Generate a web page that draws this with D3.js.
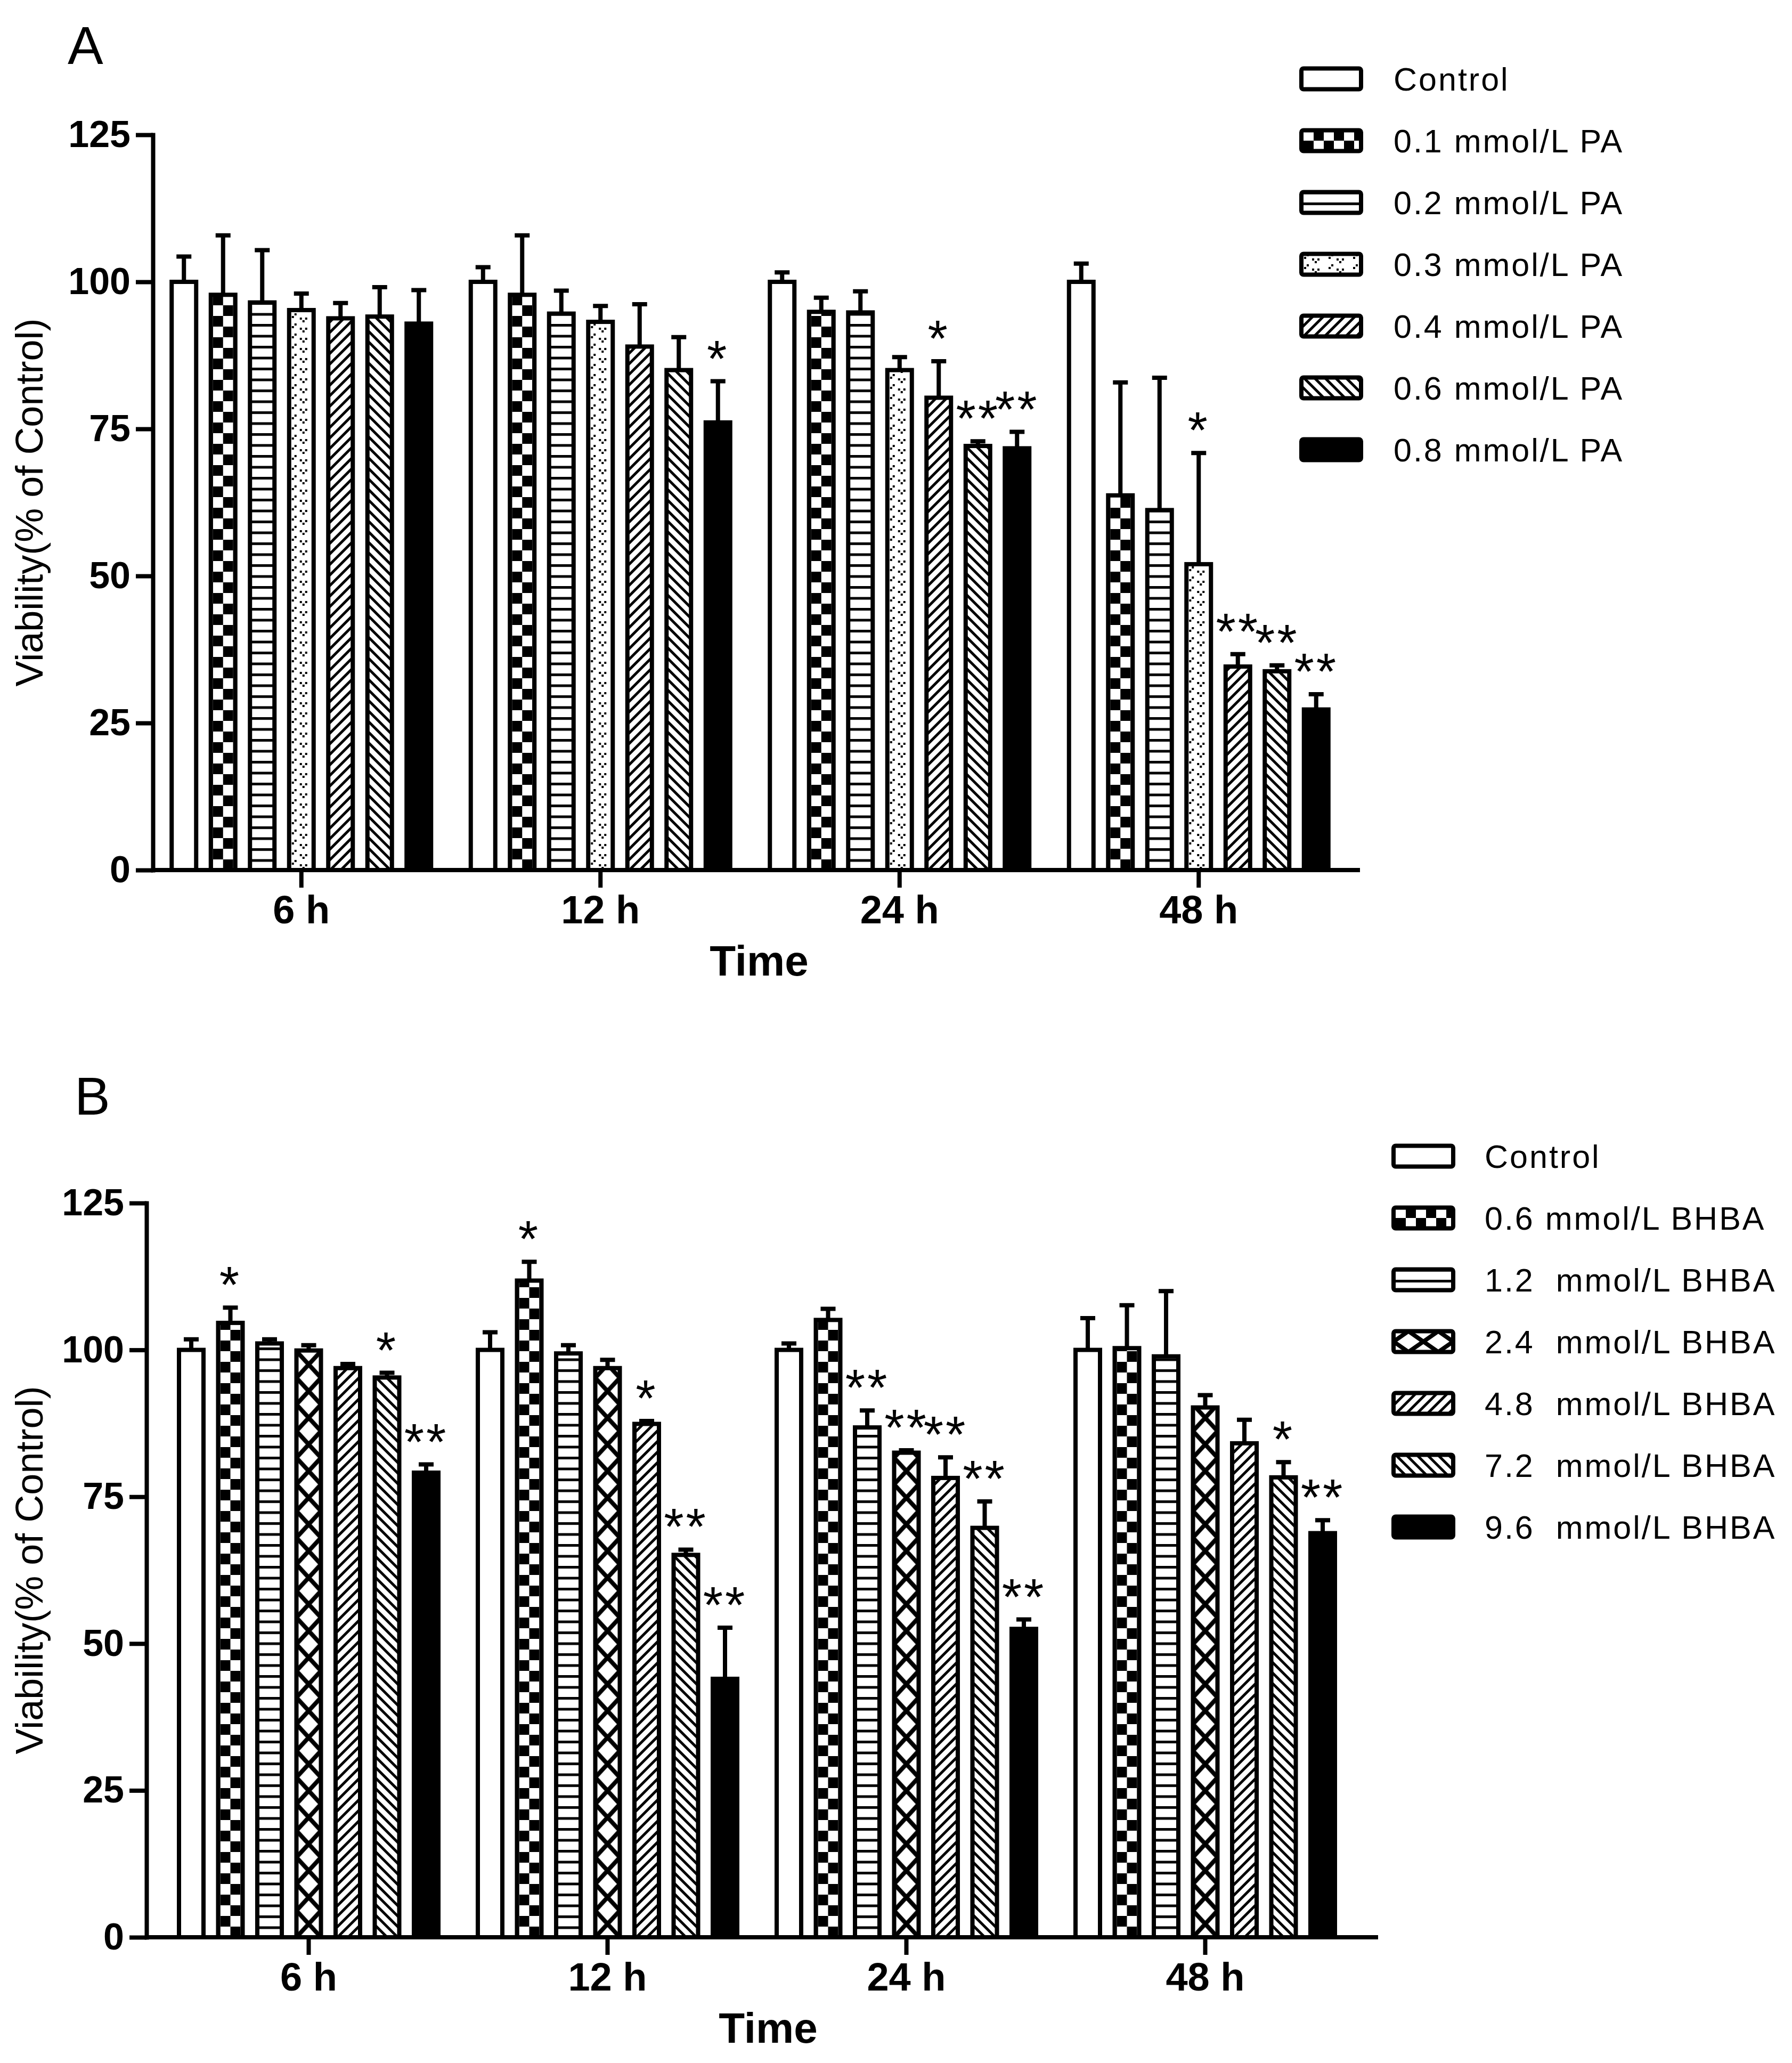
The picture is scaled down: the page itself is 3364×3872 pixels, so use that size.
<!DOCTYPE html>
<html>
<head>
<meta charset="utf-8">
<script src="https://cdn.jsdelivr.net/npm/d3@7"></script>
<style>
  body { margin: 0; background: #fff; }
  svg text { font-family: "Liberation Sans", Arial, sans-serif; fill: #000; }
</style>
</head>
<body>
<svg id="chart"></svg>
<script>
// ---- data ----
const times = ["6 h", "12 h", "24 h", "48 h"];
const yTicks = [0, 25, 50, 75, 100, 125];

const paGroups = ["Control", "0.1 mmol/L PA", "0.2 mmol/L PA", "0.3 mmol/L PA",
                  "0.4 mmol/L PA", "0.6 mmol/L PA", "0.8 mmol/L PA"];
// rows = groups, columns = times
const paMeans = [
  [100, 100, 100, 100],
  [97.8, 97.8, 94.9, 63.7],
  [96.5, 94.6, 94.8, 61.2],
  [95.2, 93.2, 85.0, 52.0],
  [93.8, 89.0, 80.3, 34.6],
  [94.1, 85.0, 72.1, 33.8],
  [92.9, 76.1, 71.7, 27.3]
];
const paErrors = [
  [4.3, 2.5, 1.6, 3.1],
  [10.1, 10.1, 2.4, 19.2],
  [8.9, 3.9, 3.6, 22.5],
  [2.8, 2.7, 2.2, 18.9],
  [2.6, 7.2, 6.2, 2.1],
  [5.0, 5.6, 0.8, 1.0],
  [5.7, 7.0, 2.8, 2.6]
];
const paStars = [
  ["", "", "", ""],
  ["", "", "", ""],
  ["", "", "", ""],
  ["", "", "", "*"],
  ["", "", "*", "**"],
  ["", "", "**", "**"],
  ["", "*", "**", "**"]
];

const bhbaGroups = ["Control", "0.6 mmol/L BHBA", "1.2  mmol/L BHBA", "2.4  mmol/L BHBA",
                    "4.8  mmol/L BHBA", "7.2  mmol/L BHBA", "9.6  mmol/L BHBA"];
const bhbaMeans = [
  [100, 100, 100, 100],
  [104.6, 111.8, 105.1, 100.3],
  [101.1, 99.4, 86.8, 98.9],
  [99.9, 96.9, 82.5, 90.2],
  [96.9, 87.4, 78.2, 84.1],
  [95.3, 65.1, 69.7, 78.3],
  [79.1, 44.0, 52.5, 68.8]
];
const bhbaErrors = [
  [1.8, 3.0, 1.1, 5.4],
  [2.6, 3.2, 1.9, 7.3],
  [0.7, 1.4, 2.9, 11.1],
  [0.9, 1.4, 0.4, 2.1],
  [0.7, 0.5, 3.5, 4.0],
  [0.8, 0.9, 4.5, 2.6],
  [1.4, 8.7, 1.6, 2.2]
];
const bhbaStars = [
  ["", "", "", ""],
  ["*", "*", "", ""],
  ["", "", "**", ""],
  ["", "", "**", ""],
  ["", "*", "**", ""],
  ["*", "**", "**", "*"],
  ["**", "**", "**", "**"]
];

// ---- canvas ----
const W = 3364, H = 3872;
const LW = 8;          // line weight used everywhere
const BAR_W = 46;      // bar rect width (outline adds LW)
const svg = d3.select("#chart").attr("width", W).attr("height", H);
svg.append("rect").attr("width", W).attr("height", H).attr("fill", "#fff");
const defs = svg.append("defs");

function addPattern(id, w, h, draw, transform, dx) {
  const p = defs.append("pattern")
    .attr("id", id)
    .attr("patternUnits", "userSpaceOnUse")
    .attr("x", dx || 0)
    .attr("width", w)
    .attr("height", h);
  if (transform) p.attr("patternTransform", transform);
  p.append("rect").attr("width", w).attr("height", h).attr("fill", "#fff");
  draw(p);
}

addPattern("checker", 38, 40, p => {
  p.append("rect").attr("width", 19).attr("height", 20);
  p.append("rect").attr("x", 19).attr("y", 20).attr("width", 19).attr("height", 20);
}, null, 4);
addPattern("hlines", 20, 20.5, p => p.append("rect").attr("width", 20).attr("height", 5));
addPattern("diagUp", 14, 14, p => p.append("rect").attr("width", 5).attr("height", 14), "rotate(45)");
addPattern("diagDown", 14, 14, p => p.append("rect").attr("width", 5).attr("height", 14), "rotate(-45)");
addPattern("dots", BAR_W, 19, p => {
  [[10, 0], [5, 5], [20, 8], [30, 8], [25, 13]].forEach(d =>
    p.append("rect").attr("x", d[0]).attr("y", d[1]).attr("width", 4).attr("height", 4));
});
function crossPattern(id, w, h) {
  addPattern(id, w, h, p => {
    p.append("path")
      .attr("d", `M${-w * .3},${-h * .3}L${w * 1.3},${h * 1.3}M${w * 1.3},${-h * .3}L${-w * .3},${h * 1.3}`)
      .attr("stroke", "#000").attr("stroke-width", LW);
  });
}
crossPattern("crossBar", BAR_W, 50);
crossPattern("crossLegend", 56, 39);

function fillFor(kind, legend) {
  if (kind === "none") return "#fff";
  if (kind === "solid") return "#000";
  if (kind === "cross") return legend ? "url(#crossLegend)" : "url(#crossBar)";
  return `url(#${kind})`;
}

function drawPanel(cfg) {
  const g = svg.append("g");

  const y = d3.scaleLinear().domain([0, 125]).range([cfg.yBottom, cfg.yTop]);
  const x0 = d3.scaleBand().domain(times)
    .range([cfg.bandStart, cfg.bandStart + cfg.step * times.length]);
  const x1 = d3.scaleBand().domain(cfg.groups)
    .range([-257.25, 257.25]).paddingInner(0.374).paddingOuter(0.187);

  const rows = [];
  cfg.groups.forEach((grp, j) => {
    times.forEach((t, i) => {
      rows.push({ grp, j, t, v: cfg.means[j][i], e: cfg.errors[j][i], star: cfg.stars[j][i] });
    });
  });
  const cx = d => x0(d.t) + x0.bandwidth() / 2 + x1(d.grp) + x1.bandwidth() / 2;

  // bars (each in its own frame so patterns line up with the bar)
  const bars = g.selectAll(".bar").data(rows).enter().append("g")
    .attr("transform", d => `translate(${cx(d) - BAR_W / 2},${y(0)})`);
  bars.append("rect")
    .attr("y", d => y(d.v) - y(0))
    .attr("width", BAR_W)
    .attr("height", d => y(0) - y(d.v))
    .attr("fill", d => fillFor(cfg.patterns[d.j], false))
    .attr("stroke", "#000")
    .attr("stroke-width", LW);

  // error bars (upper only)
  g.selectAll(".err").data(rows).enter().append("path")
    .attr("d", d => `M${cx(d)},${y(d.v)}V${y(d.v + d.e)}M${cx(d) - 14},${y(d.v + d.e)}H${cx(d) + 14}`)
    .attr("stroke", "#000").attr("stroke-width", LW).attr("fill", "none");

  // significance marks
  g.selectAll(".star").data(rows.filter(d => d.star)).enter().append("text")
    .attr("x", cx)
    .attr("y", d => y(d.v + d.e) - 10)
    .attr("text-anchor", "middle")
    .attr("font-size", 96)
    .style("letter-spacing", "4px")
    .text(d => d.star);

  // y axis
  const ya = g.append("g")
    .attr("transform", `translate(${cfg.yAxisX},0)`)
    .call(d3.axisLeft(y).tickValues(yTicks).tickSize(32).tickPadding(10).tickSizeOuter(0));
  ya.select(".domain").attr("stroke-width", LW).attr("stroke-linecap", "square");
  ya.selectAll(".tick line").attr("stroke-width", LW);
  ya.selectAll(".tick text")
    .attr("font-size", 70).attr("font-weight", "bold")
    .attr("font-family", "Liberation Sans, Arial, sans-serif");

  // x axis
  const xa = g.append("g")
    .attr("transform", `translate(0,${y(0)})`)
    .call(d3.axisBottom(x0).tickSize(33).tickPadding(14).tickSizeOuter(0));
  xa.select(".domain").remove();
  xa.selectAll(".tick line").attr("stroke-width", LW);
  xa.selectAll(".tick text")
    .attr("font-size", 74).attr("font-weight", "bold")
    .attr("font-family", "Liberation Sans, Arial, sans-serif");
  g.append("line")
    .attr("x1", cfg.yAxisX).attr("x2", cfg.xAxisEnd)
    .attr("y1", y(0)).attr("y2", y(0))
    .attr("stroke", "#000").attr("stroke-width", LW);

  // titles
  g.append("text")
    .attr("transform", `translate(80,${(cfg.yTop + cfg.yBottom) / 2}) rotate(-90)`)
    .attr("text-anchor", "middle")
    .attr("font-size", 72)
    .text("Viability(% of Control)");
  g.append("text")
    .attr("x", cfg.timeX).attr("y", y(0) + 198)
    .attr("text-anchor", "middle")
    .attr("font-size", 80).attr("font-weight", "bold")
    .text("Time");
  g.append("text")
    .attr("x", cfg.letterX).attr("y", cfg.letterY)
    .attr("font-size", 100)
    .text(cfg.letter);

  // legend
  const lg = g.selectAll(".leg").data(cfg.groups).enter().append("g")
    .attr("transform", (d, j) => `translate(${cfg.legendX},${cfg.legendY + j * 116})`);
  lg.append("rect")
    .attr("y", -19.5).attr("width", 112).attr("height", 39).attr("rx", 4)
    .attr("fill", (d, j) => fillFor(cfg.patterns[j], true))
    .attr("stroke", "#000").attr("stroke-width", LW);
  lg.append("text")
    .attr("x", cfg.legendTextX - cfg.legendX)
    .attr("y", 22)
    .attr("font-size", 61)
    .style("letter-spacing", "3px")
    .style("white-space", "pre")
    .text(d => d);
}

drawPanel({
  letter: "A", letterX: 127, letterY: 120,
  groups: paGroups, means: paMeans, errors: paErrors, stars: paStars,
  patterns: ["none", "checker", "hlines", "dots", "diagUp", "diagDown", "solid"],
  yTop: 253, yBottom: 1633, yAxisX: 287,
  bandStart: 285, step: 561.5, xAxisEnd: 2553, timeX: 1425,
  legendX: 2443, legendY: 148, legendTextX: 2616
});

drawPanel({
  letter: "B", letterX: 140, letterY: 2092,
  groups: bhbaGroups, means: bhbaMeans, errors: bhbaErrors, stars: bhbaStars,
  patterns: ["none", "checker", "hlines", "cross", "diagUp", "diagDown", "solid"],
  yTop: 2258, yBottom: 3636, yAxisX: 275,
  bandStart: 299, step: 561, xAxisEnd: 2587, timeX: 1442,
  legendX: 2616, legendY: 2170, legendTextX: 2787
});
</script>
</body>
</html>
